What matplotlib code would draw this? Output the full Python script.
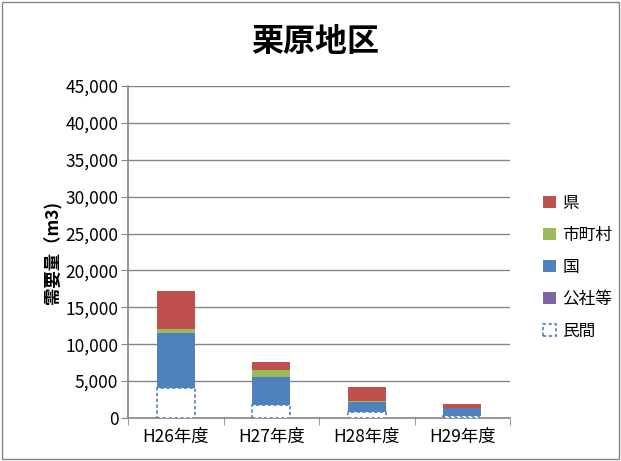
import matplotlib.pyplot as plt
import matplotlib.patches as mpatches
import numpy as np

plt.rcParams["font.family"] = ["Noto Sans CJK JP", "DejaVu Sans"]

# データ
categories = ["H26年度", "H27年度", "H28年度", "H29年度"]
minkan = [4000, 1800, 800, 300]      # 民間
kousha = [0, 0, 0, 0]                # 公社等
kuni = [7550, 3700, 1400, 1000]      # 国
shichoson = [550, 1050, 100, 100]    # 市町村
ken = [5100, 1050, 1950, 500]        # 県

fig = plt.figure(figsize=(6.21, 4.61), dpi=100)
ax = fig.add_axes([128 / 621, 1 - 418 / 461, (510 - 128) / 621, (418 - 86) / 461])

x = np.arange(len(categories))
w = 0.4
bottom = np.zeros(len(categories))

ax.bar(x, minkan, w, bottom=bottom, facecolor="white", edgecolor="#4F81BD",
       linestyle=(0, (2, 1.5)), linewidth=1.2, label="民間", zorder=3)
bottom += minkan
ax.bar(x, kousha, w, bottom=bottom, color="#8064A2", label="公社等", zorder=3)
bottom += kousha
ax.bar(x, kuni, w, bottom=bottom, color="#4F81BD", label="国", zorder=3)
bottom += kuni
ax.bar(x, shichoson, w, bottom=bottom, color="#9BBB59", label="市町村", zorder=3)
bottom += shichoson
ax.bar(x, ken, w, bottom=bottom, color="#C0504D", label="県", zorder=3)

ax.set_xlim(-0.5, len(categories) - 0.5)
ax.set_ylim(0, 45000)
ax.set_yticks(np.arange(0, 45001, 5000))
ax.set_yticklabels([f"{v:,}" for v in range(0, 45001, 5000)], fontsize=12.5)
ax.set_xticks(x)
ax.set_xticklabels(categories, fontsize=12.5)
ax.set_xticks(np.arange(-0.5, len(categories), 1), minor=True)
ax.tick_params(axis="x", which="major", length=0, pad=7)
ax.tick_params(axis="x", which="minor", length=5, color="#868686")
ax.tick_params(axis="y", length=5, color="#868686", pad=2)

ax.grid(axis="y", color="#868686", linewidth=1, zorder=0)
for s in ["top", "right"]:
    ax.spines[s].set_visible(False)
for s in ["left", "bottom"]:
    ax.spines[s].set_color("#868686")
    ax.spines[s].set_linewidth(1.2)

ax.set_ylabel("需要量（m3)", fontsize=12.5, fontweight="bold", labelpad=2)
fig.text(315 / 621, 1 - 42 / 461, "栗原地区", fontsize=23, fontweight="bold",
         ha="center", va="center")

handles, labels = ax.get_legend_handles_labels()
fig.legend(handles[::-1], labels[::-1], loc="center left",
           bbox_to_anchor=(528 / 621, 1 - 267 / 461), frameon=False,
           fontsize=12, handlelength=0.75, handleheight=0.75,
           handletextpad=0.4, labelspacing=0.9)

fig.patches.append(mpatches.Rectangle((0.003, 0.004), 0.994, 0.992,
                                      transform=fig.transFigure, fill=False,
                                      edgecolor="#868686", linewidth=1))

fig.savefig("out.png", dpi=100)
